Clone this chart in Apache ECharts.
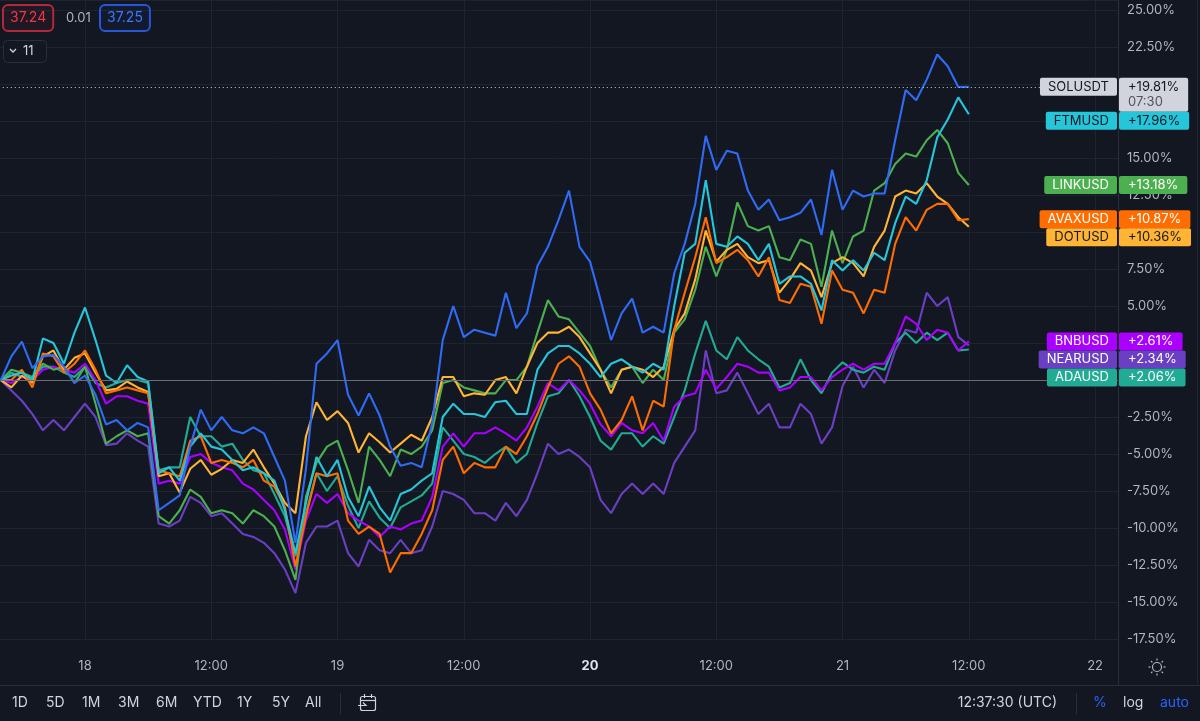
<!DOCTYPE html>
<html>
<head>
<meta charset="utf-8">
<script src="https://cdn.jsdelivr.net/npm/echarts@6/dist/echarts.min.js"></script>
<style>
html,body{margin:0;padding:0;background:#131722;}
#c{width:1200px;height:721px;}
</style>
</head>
<body>
<div id="c"></div>
<script>
// ---------- DATA ----------
// x values: hours since Dec 17 00:00 (UTC); first bar = Dec 17 16:00, hourly bars
const startHour = 16;
const stepHours = 1;
const xTickLabels = {24:'18', 36:'12:00', 48:'19', 60:'12:00', 72:'20', 84:'12:00', 96:'21', 108:'12:00', 120:'22'};
const boldTick = 72;

const symbols = ['SOLUSDT','FTMUSD','LINKUSD','AVAXUSD','DOTUSD','BNBUSD','NEARUSD','ADAUSD'];

const SOLUSDT = [0, 1.6, 2.6, 0.8, 1.6, 1.7, 0.9, -0.2, 0.3, -1.0, -3.0, -2.7, -3.4, -2.9, -3.2,
 -8.8, -8.3, -7.8, -4.5, -2.0, -3.4, -2.5, -3.4, -3.6, -3.2, -3.6, -5.2, -6.8, -11.0, -6.0, 1.1,
 1.8, 2.7, -1.0, -2.4, -0.9, -2.4, -4.5, -5.8, -5.6, -5.9, -2.9, 2.7,
 5.0, 2.9, 3.4, 3.2, 3.0, 5.9, 3.5, 4.5, 7.7, 9.0, 10.8, 12.8, 9.0, 8.0, 5.4,
 2.7, 4.5, 5.5, 3.2, 3.6, 3.2, 7.2, 9.2, 11.9, 16.5, 14.2, 15.5, 15.3, 12.8, 11.5, 12.2, 10.8, 11.0, 11.3, 12.2, 9.8, 14.2, 11.5,
 12.8, 12.4, 12.6, 12.6, 16.2, 19.6, 18.9, 20.3, 22.0, 21.2, 19.8, 19.81];

const FTMUSD = [0, 0.3, 0.5, 0.0, 2.8, 2.5, 1.1, 3.2, 4.9, 2.7, 0.3, -0.2, 1.0, 0.2, -0.1,
 -6.3, -5.9, -6.8, -4.5, -3.6, -4.5, -4.7, -5.4, -6.1, -5.9, -6.3, -6.8, -8.8, -11.7, -8.3, -5.2,
 -6.5, -5.4, -7.9, -9.2, -7.2, -8.6, -9.5, -7.7, -7.4, -6.8, -6.3, -2.5,
 -1.6, -2.3, -2.3, -2.5, -1.5, -1.4, -2.3, -2.3, 0.7, 1.8, 2.3, 2.3, 1.8, 1.1, 0.2,
 1.1, 1.4, 0.9, 0.5, 1.1, 0.7, 5.0, 8.6, 9.2, 13.5, 9.2, 9.0, 9.7, 9.2, 8.1, 9.2, 6.5, 7.0, 7.0, 6.5, 4.7, 8.1, 7.4,
 8.1, 7.4, 8.6, 8.1, 10.6, 12.4, 11.9, 13.5, 16.4, 17.6, 19.1, 17.96];

const LINKUSD = [0, 0.7, 0.5, 0.2, 1.1, 0.7, 0.9, -0.2, 0.9, -1.6, -4.3, -3.8, -3.4, -3.8, -3.6,
 -9.2, -9.7, -8.8, -7.4, -7.9, -9.0, -8.8, -9.0, -9.7, -8.8, -9.2, -9.9, -11.5, -13.5, -7.9, -5.6,
 -4.5, -4.1, -6.1, -8.3, -4.5, -5.4, -6.5, -4.7, -5.0, -4.5, -3.4, -0.2,
 0.0, -0.5, -0.7, -0.9, -0.9, 0.0, 0.0, 0.9, 3.2, 5.4, 4.3, 4.1, 3.2, 2.3, 0.7,
 -0.5, 0.7, 0.9, -0.2, 0.7, 0.0, 3.2, 4.1, 6.1, 9.0, 7.0, 8.8, 12.0, 10.4, 10.1, 10.4, 8.3, 8.1, 9.5, 9.2, 6.3, 10.1, 7.9,
 9.7, 10.1, 12.8, 13.3, 14.6, 15.3, 15.1, 16.2, 16.9, 16.0, 14.0, 13.18];

const AVAXUSD = [0, 0.0, 0.7, -0.5, 1.8, 1.6, 0.5, 1.1, 2.0, 0.7, -0.9, -0.7, -0.5, -0.7, -0.9,
 -6.1, -6.3, -6.5, -4.1, -3.8, -5.6, -5.4, -5.6, -5.9, -5.4, -6.8, -7.2, -8.6, -12.6, -9.2, -6.3,
 -6.5, -6.3, -9.5, -10.4, -9.9, -10.4, -13.0, -11.7, -11.7, -10.4, -8.8, -5.4,
 -4.5, -6.3, -5.6, -5.9, -5.9, -4.5, -5.0, -3.8, -2.3, -0.5, 1.1, 1.6, 0.9, -0.9, -2.0,
 -3.6, -2.7, -1.1, -3.4, -1.4, -1.8, 3.4, 5.9, 8.3, 11.0, 7.9, 8.3, 8.8, 8.1, 7.0, 8.3, 5.4, 5.2, 6.5, 6.3, 3.8, 7.4, 6.1,
 5.9, 4.5, 6.1, 5.9, 9.2, 11.0, 10.1, 11.5, 11.9, 11.9, 10.8, 10.87];

const DOTUSD = [0, -0.5, 0.3, -0.2, 1.6, 2.0, 0.7, 1.5, 1.8, 0.5, -0.7, -0.6, -0.1, -0.5, -0.8,
 -6.5, -6.3, -7.6, -6.0, -5.4, -6.4, -6.0, -5.4, -5.6, -4.7, -5.9, -7.0, -8.3, -9.0, -3.8, -1.5,
 -2.7, -2.1, -2.9, -4.9, -3.6, -4.2, -4.9, -4.3, -3.7, -4.1, -2.5, 0.2,
 0.2, -1.1, -0.9, -1.0, 0.0, 0.2, -0.9, 0.9, 2.5, 3.2, 3.2, 3.6, 2.9, 1.8, 0.7,
 -0.9, 0.7, 0.9, 0.7, 0.2, 0.9, 3.4, 4.5, 6.8, 10.1, 8.0, 8.8, 9.2, 8.3, 7.9, 8.1, 5.9, 6.8, 7.9, 7.4, 5.6, 7.9, 8.3,
 7.9, 7.0, 9.0, 10.1, 12.4, 12.8, 12.6, 13.3, 12.4, 11.9, 11.0, 10.36];

const BNBUSD = [0, -0.2, 0.2, 0.0, 0.7, 0.9, 0.7, 0.5, 1.1, 0.0, -1.6, -1.1, -1.1, -1.4, -1.6,
 -7.0, -6.8, -7.0, -5.2, -5.0, -5.6, -5.9, -6.1, -7.0, -7.4, -8.1, -8.8, -10.1, -12.8, -9.5, -7.7,
 -8.3, -7.7, -9.0, -9.5, -9.9, -10.6, -9.9, -10.1, -9.7, -9.5, -7.9, -4.5,
 -3.6, -4.5, -3.6, -3.6, -3.2, -3.6, -4.1, -3.2, -1.8, -0.2, -0.7, 0.0, -0.7, -1.6, -3.0,
 -3.8, -2.9, -3.4, -3.6, -2.9, -4.1, -1.8, -1.1, -0.9, 0.7, -0.6, 0.2, 1.1, 0.9, 0.5, 0.5, -0.7, -0.5, 0.2, 0.2, -0.7, 0.2, 0.7,
 1.1, 0.7, 1.1, 1.1, 2.5, 4.3, 3.8, 2.7, 3.4, 3.2, 2.0, 2.61];

const NEARUSD = [0, -0.7, -1.4, -2.3, -3.4, -2.7, -3.4, -2.5, -1.6, -2.5, -4.4, -4.3, -3.6, -4.1, -4.5,
 -9.7, -9.9, -9.5, -7.9, -8.3, -9.2, -9.0, -9.7, -10.4, -10.6, -11.0, -11.7, -12.8, -14.4, -11.0, -9.9,
 -9.9, -9.5, -11.7, -12.6, -10.8, -11.5, -11.7, -10.8, -11.7, -11.5, -9.9, -7.5,
 -7.7, -8.1, -9.0, -9.0, -9.5, -8.3, -9.2, -8.1, -6.3, -4.3, -5.0, -4.7, -5.2, -5.9, -8.1,
 -9.0, -7.7, -7.0, -7.7, -7.0, -7.7, -5.6, -4.5, -3.4, 2.0, -0.9, -0.7, 0.5, -0.9, -2.3, -1.6, -3.2, -3.2, -1.6, -2.3, -4.3, -3.2, -0.4,
 0.9, -0.5, 0.7, -0.2, 2.0, 3.4, 3.2, 5.9, 5.0, 5.6, 2.9, 2.34];

const ADAUSD = [0, 0.5, 0.2, 0.2, 0.9, 0.9, 0.5, 0.2, 0.9, -0.2, -0.5, -0.2, 0.0, 0.0, -0.2,
 -6.1, -5.9, -5.9, -2.5, -3.8, -3.8, -4.5, -4.3, -5.4, -6.1, -6.3, -7.7, -9.2, -11.9, -9.0, -6.3,
 -7.5, -6.5, -8.5, -10.0, -8.2, -9.3, -10.0, -8.6, -8.2, -7.8, -7.0, -3.2,
 -4.1, -5.0, -5.2, -5.6, -5.0, -4.5, -5.6, -5.0, -2.9, -1.1, -0.9, 0.0, -1.1, -2.5, -4.1,
 -4.7, -3.6, -3.6, -4.5, -3.8, -4.3, -2.5, -0.7, 1.8, 4.0, 2.0, 1.4, 2.9, 2.0, 1.4, 0.9, -0.5, -0.2, 1.4, 0.0, -0.9, 0.5, 1.2,
 0.7, 0.5, 0.9, 0.7, 2.5, 3.2, 2.5, 3.2, 2.7, 3.2, 2.0, 2.06];

const seriesValues = [SOLUSDT, FTMUSD, LINKUSD, AVAXUSD, DOTUSD, BNBUSD, NEARUSD, ADAUSD];
const countdownText = '07:30';
const headerTexts = {bid:'37.24', spread:'0.01', ask:'37.25', count:'11'};
const rangeButtons = ['1D','5D','1M','3M','6M','YTD','1Y','5Y','All'];
const clockText = '12:37:30 (UTC)';

// ---------- STYLE ----------
const FONT = 'Inter, "Noto Sans", Roboto, sans-serif';
const lineColors = ['#2f6bf5','#26c6da','#4caf50','#ff6d00','#ffb433','#aa00ff','#6b3fc4','#22ab94'];
const tagBg = ['#d1d4dc','#26c6da','#4caf50','#ff6d00','#ffb433','#aa00ff','#6b3fc4','#22ab94'];
const tagFg = ['#131722','#131722','#ffffff','#ffffff','#131722','#ffffff','#ffffff','#ffffff'];
const drawOrder = [6,7,5,2,4,3,1,0];

const chart = echarts.init(document.getElementById('c'), null, {renderer:'canvas'});

const last = a => a[a.length - 1];

const series = drawOrder.map(i => ({
  type: 'line',
  name: symbols[i],
  data: seriesValues[i].map((v, k) => [startHour + k * stepHours, v]),
  showSymbol: false,
  symbol: 'none',
  animation: false,
  lineStyle: {color: lineColors[i], width: 2.1},
  itemStyle: {color: lineColors[i]},
  emphasis: {disabled: true}
}));
// zero baseline + last-price dotted line
series[0].markLine = {
  silent: true, symbol: 'none', animation: false,
  label: {show: false},
  data: [
    {yAxis: 0, lineStyle: {color: '#6a6d78', type: 'solid', width: 1}},
    {yAxis: last(SOLUSDT), lineStyle: {color: '#c9ccd4', type: [1, 3], width: 1}}
  ]
};

chart.setOption({
  backgroundColor: '#131722',
  animation: false,
  grid: {left: -41.25, right: 82, top: 0, bottom: 82, containLabel: false, outerBoundsMode: 'none'},
  xAxis: {
    type: 'value', min: 12, max: 122.18, interval: 12, offset: 13,
    axisLine: {show: true, lineStyle: {color: '#2a2e39'}},
    axisTick: {show: false},
    splitLine: {show: true, lineStyle: {color: '#1f232e'}},
    axisLabel: {
      color: '#b2b5be', fontSize: 13, fontFamily: FONT, margin: 8,
      showMinLabel: false, showMaxLabel: false,
      formatter: v => {
        const t = xTickLabels[Math.round(v)];
        if (!t) return '';
        return Math.round(v) === boldTick ? '{b|' + t + '}' : t;
      },
      rich: {b: {color: '#e0e3eb', fontWeight: 'bold', fontSize: 13, fontFamily: FONT}}
    }
  },
  yAxis: {
    type: 'value', position: 'right', min: -17.5, max: 25.68, interval: 2.5,
    axisLine: {show: false}, axisTick: {show: false},
    splitLine: {show: true, lineStyle: {color: '#1f232e'}},
    axisLabel: {
      color: '#b2b5be', fontSize: 13, fontFamily: FONT, margin: 9,
      showMaxLabel: false,
      formatter: v => v.toFixed(2) + '%'
    }
  },
  series: series
});

// ---------- price tags on the right axis ----------
const tagItems = symbols.map((s, i) => ({i, v: last(seriesValues[i]), y: chart.convertToPixel({yAxisIndex: 0}, last(seriesValues[i]))}));
tagItems.sort((a, b) => a.y - b.y);
let prevBottom = -1e9;
tagItems.forEach(it => {
  const h = it.i === 0 ? 34 : 18;
  let top = it.y - 9;
  if (top < prevBottom) top = prevBottom;
  it.top = top;
  prevBottom = top + h;
});

const graphics = [];
// frame lines
graphics.push({type: 'line', shape: {x1: 1118.5, y1: 0, x2: 1118.5, y2: 686}, style: {stroke: '#2a2e39', lineWidth: 1}, z: 50});
graphics.push({type: 'line', shape: {x1: 0, y1: 685.5, x2: 1200, y2: 685.5}, style: {stroke: '#2a2e39', lineWidth: 1}, z: 50});
graphics.push({type: 'line', shape: {x1: 1197.5, y1: 0, x2: 1197.5, y2: 686}, style: {stroke: '#222631', lineWidth: 1}, z: 50});

tagItems.forEach(it => {
  const i = it.i;
  const valStr = (it.v >= 0 ? '+' : '') + it.v.toFixed(2) + '%';
  graphics.push({
    type: 'text', x: 1117, y: it.top, z: 100,
    style: {text: symbols[i], fill: tagFg[i], backgroundColor: tagBg[i], padding: [2, 8, 2, 8],
      borderRadius: 2, fontSize: 13, fontFamily: FONT, lineHeight: 14, align: 'right', verticalAlign: 'top'}
  });
  if (i === 0) {
    graphics.push({
      type: 'text', x: 1119, y: it.top, z: 100,
      style: {text: '{a|' + valStr + '}\n{b|' + countdownText + '}', backgroundColor: tagBg[i], padding: [2, 9, 2, 9],
        borderRadius: 2, align: 'left', verticalAlign: 'top',
        rich: {a: {fill: tagFg[i], fontSize: 13, fontFamily: FONT, lineHeight: 15},
               b: {fill: '#50535e', fontSize: 13, fontFamily: FONT, lineHeight: 15}}}
    });
  } else {
    graphics.push({
      type: 'text', x: 1119, y: it.top, z: 100,
      style: {text: valStr, fill: tagFg[i], backgroundColor: tagBg[i], padding: [2, 9, 2, 9],
        borderRadius: 2, fontSize: 13, fontFamily: FONT, lineHeight: 14, align: 'left', verticalAlign: 'top'}
    });
  }
});

// top-left quote boxes
graphics.push({type: 'text', x: 3, y: 5, z: 100, style: {text: headerTexts.bid, fill: '#f23645', fontSize: 14, fontFamily: FONT, lineHeight: 16,
  padding: [5, 7, 5, 7], borderColor: '#b2283a', borderWidth: 1, borderRadius: 5, backgroundColor: 'rgba(242,54,69,0.05)'}});
graphics.push({type: 'text', x: 66, y: 18, z: 100, style: {text: headerTexts.spread, fill: '#b2b5be', fontSize: 13, fontFamily: FONT, verticalAlign: 'middle'}});
graphics.push({type: 'text', x: 100, y: 5, z: 100, style: {text: headerTexts.ask, fill: '#3b77f6', fontSize: 14, fontFamily: FONT, lineHeight: 16,
  padding: [5, 7, 5, 7], borderColor: '#2856d6', borderWidth: 1, borderRadius: 5, backgroundColor: 'rgba(41,98,255,0.05)'}});
graphics.push({type: 'rect', shape: {x: 3.5, y: 40.5, width: 43, height: 22, r: 4}, style: {fill: '#131722', stroke: '#2a2e39', lineWidth: 1}, z: 100});
graphics.push({type: 'polyline', shape: {points: [[10, 49], [13, 52], [16, 49]]}, style: {stroke: '#d1d4dc', lineWidth: 1.3, fill: null}, z: 101});
graphics.push({type: 'text', x: 23, y: 51.5, z: 101, style: {text: headerTexts.count, fill: '#d1d4dc', fontSize: 13, fontFamily: FONT, verticalAlign: 'middle'}});

// bottom toolbar
const btnX = [12, 46, 82, 118, 156, 193, 237, 272, 305];
rangeButtons.forEach((b, k) => {
  graphics.push({type: 'text', x: btnX[k], y: 703, z: 100, style: {text: b, fill: '#d1d4dc', fontSize: 14, fontFamily: FONT, verticalAlign: 'middle'}});
});
graphics.push({type: 'line', shape: {x1: 340.5, y1: 693, x2: 340.5, y2: 714}, style: {stroke: '#2a2e39', lineWidth: 1}, z: 100});
// calendar icon
graphics.push({type: 'rect', shape: {x: 360.5, y: 696.5, width: 15, height: 14, r: 2}, style: {fill: null, stroke: '#d1d4dc', lineWidth: 1.2}, z: 100});
graphics.push({type: 'line', shape: {x1: 360.5, y1: 700.5, x2: 375.5, y2: 700.5}, style: {stroke: '#d1d4dc', lineWidth: 1.2}, z: 100});
graphics.push({type: 'line', shape: {x1: 364.5, y1: 694, x2: 364.5, y2: 698}, style: {stroke: '#d1d4dc', lineWidth: 1.2}, z: 100});
graphics.push({type: 'line', shape: {x1: 371.5, y1: 694, x2: 371.5, y2: 698}, style: {stroke: '#d1d4dc', lineWidth: 1.2}, z: 100});
graphics.push({type: 'polyline', shape: {points: [[358, 705.5], [366, 705.5], [363, 702.5]]}, style: {stroke: '#d1d4dc', lineWidth: 1.2, fill: null}, z: 101});

graphics.push({type: 'text', x: 1057, y: 703, z: 100, style: {text: clockText, fill: '#d1d4dc', fontSize: 14, fontFamily: FONT, align: 'right', verticalAlign: 'middle'}});
graphics.push({type: 'line', shape: {x1: 1076.5, y1: 693, x2: 1076.5, y2: 714}, style: {stroke: '#2a2e39', lineWidth: 1}, z: 100});
graphics.push({type: 'text', x: 1093, y: 703, z: 100, style: {text: '%', fill: '#2962ff', fontSize: 14, fontFamily: FONT, verticalAlign: 'middle'}});
graphics.push({type: 'text', x: 1123, y: 703, z: 100, style: {text: 'log', fill: '#d1d4dc', fontSize: 14, fontFamily: FONT, verticalAlign: 'middle'}});
graphics.push({type: 'text', x: 1160, y: 703, z: 100, style: {text: 'auto', fill: '#2962ff', fontSize: 14, fontFamily: FONT, verticalAlign: 'middle'}});

// settings (sun/gear) icon in axis corner
graphics.push({type: 'circle', shape: {cx: 1157, cy: 667, r: 4.5}, style: {fill: null, stroke: '#b2b5be', lineWidth: 1.2}, z: 100});
for (let k = 0; k < 8; k++) {
  const a = k * Math.PI / 4;
  graphics.push({type: 'line', shape: {x1: 1157 + Math.cos(a) * 6.5, y1: 667 + Math.sin(a) * 6.5, x2: 1157 + Math.cos(a) * 8.5, y2: 667 + Math.sin(a) * 8.5},
    style: {stroke: '#b2b5be', lineWidth: 1.2}, z: 100});
}

chart.setOption({graphic: graphics});
</script>
</body>
</html>
